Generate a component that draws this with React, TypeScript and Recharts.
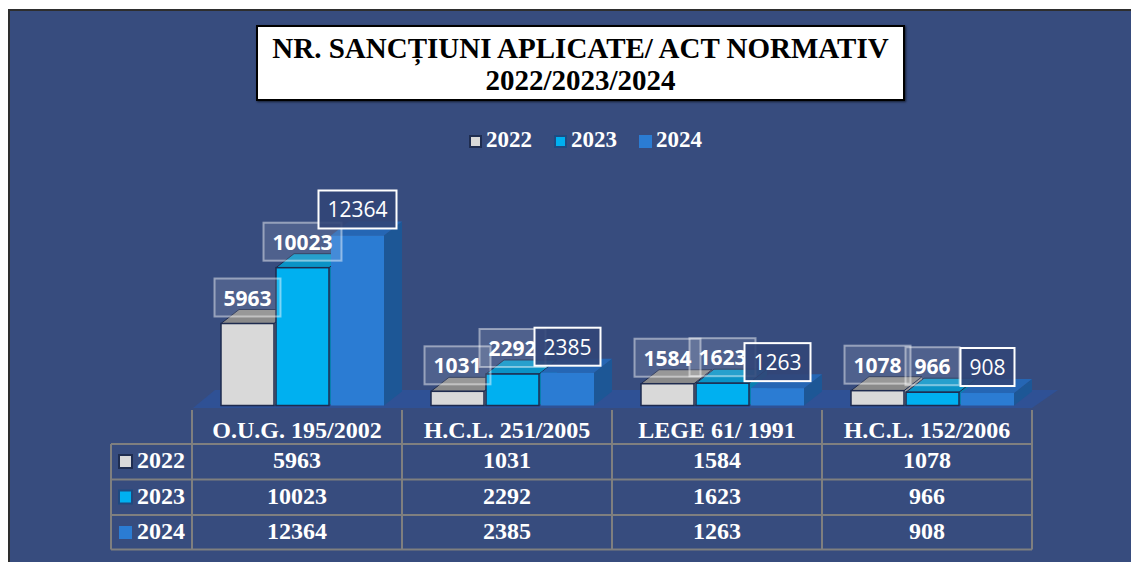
import React from 'react';
import { BarChart, Bar, XAxis, YAxis, LabelList } from 'recharts';

const categories = ['O.U.G. 195/2002', 'H.C.L. 251/2005', 'LEGE 61/ 1991', 'H.C.L. 152/2006'];
const values2022 = [5963, 1031, 1584, 1078];
const values2023 = [10023, 2292, 1623, 966];
const values2024 = [12364, 2385, 1263, 908];

const data = categories.map((name, i) => ({
  name,
  y2022: values2022[i],
  y2023: values2023[i],
  y2024: values2024[i],
}));

const W = 1131;
const H = 554;
const BG = '#374c7e';
const SERIF = '"Liberation Serif", "Times New Roman", serif';
const SANS = '"Open Sans", "Noto Sans", sans-serif';
const DX = 18;
const DY = 14;
const SHIFT = 5;

const series = [
  { key: 'y2022', name: '2022', values: values2022, front: '#d9d9d9', top: '#8a8a8a', side: '#9c9c9c', stroke: '#1e2b4f', keyStroke: '#1f2d50', bold: true },
  { key: 'y2023', name: '2023', values: values2023, front: '#00b0f0', top: '#0a93c6', side: '#0880b0', stroke: '#1e2b4f', keyStroke: '#1f4a80', bold: true },
  { key: 'y2024', name: '2024', values: values2024, front: '#2b7cd3', top: '#2566b4', side: '#1d5796', stroke: 'none', keyStroke: 'none', bold: false },
];

type S = (typeof series)[number];

const make3D = (s: S) => (props: any) => {
  const { x, y, width: w, height: h } = props;
  if (h == null || w == null) return null;
  const x0 = x + SHIFT;
  return (
    <g>
      <polygon
        points={`${x0 + w},${y} ${x0 + w + DX},${y - DY} ${x0 + w + DX},${y + h - DY} ${x0 + w},${y + h}`}
        fill={s.side}
      />
      <polygon
        points={`${x0},${y} ${x0 + DX},${y - DY} ${x0 + w + DX},${y - DY} ${x0 + w},${y}`}
        fill={s.top}
        stroke={s.stroke}
        strokeWidth={1}
      />
      <rect x={x0} y={y} width={w} height={h} fill={s.front} stroke={s.stroke} strokeWidth={1.5} />
    </g>
  );
};

const makeLabel = (s: S) => (props: any) => {
  const { x, y, width, value } = props;
  const txt = String(value);
  const bw = txt.length * 12 + 18;
  const cx = x + SHIFT + width / 2;
  const bottom = y - 7;
  return (
    <g>
      <rect
        x={cx - bw / 2}
        y={bottom - 38}
        width={bw}
        height={38}
        fill={s.bold ? 'rgba(255,255,255,0.12)' : 'rgba(50,70,120,0.9)'}
        stroke={s.bold ? 'rgba(255,255,255,0.45)' : '#ffffff'}
        strokeWidth={2}
      />
      <text
        x={cx}
        y={bottom - 11}
        textAnchor="middle"
        fill="#fff"
        fontFamily={SANS}
        fontSize={21}
        fontWeight={s.bold ? 700 : 400}
      >
        {txt}
      </text>
    </g>
  );
};

const HeaderTick = (props: any) => {
  const { x, y, payload } = props;
  return (
    <text x={x} y={y + 32.5} textAnchor="middle" fill="#fff" fontFamily={SERIF} fontWeight={700} fontSize={24}>
      {payload.value}
    </text>
  );
};

// table geometry (chart coords)
const colX = [184, 394, 604, 814, 1024];
const rowY = [435, 470.5, 506, 540.5];

function Table() {
  return (
    <svg width={W} height={H} style={{ position: 'absolute', left: 0, top: 0, pointerEvents: 'none' }}>
      <g stroke="#7f7f7f" strokeWidth={2}>
        {rowY.map((y) => (
          <line key={y} x1={103} x2={1024} y1={y} y2={y} />
        ))}
        <line x1={103} x2={103} y1={rowY[0]} y2={rowY[3]} />
        {colX.map((x) => (
          <line key={x} x1={x} x2={x} y1={401} y2={rowY[3]} />
        ))}
      </g>
      {series.map((s, r) => {
        const base = rowY[r] + 24;
        return (
          <g key={s.key} fontFamily={SERIF} fontWeight={700} fontSize={24} fill="#fff">
            <rect
              x={111}
              y={base - 13}
              width={13}
              height={13}
              fill={s.front}
              stroke={s.keyStroke}
              strokeWidth={s.keyStroke === 'none' ? 0 : 2}
            />
            <text x={129} y={base}>{s.name}</text>
            {s.values.map((v, i) => (
              <text key={i} x={(colX[i] + colX[i + 1]) / 2} y={base} textAnchor="middle">
                {v}
              </text>
            ))}
          </g>
        );
      })}
    </svg>
  );
}

export default function App() {
  return (
    <div style={{ position: 'relative', top: 1, width: W, height: H, background: BG, overflow: 'hidden' }}>
      <style>{'html,body{overflow:hidden}'}</style>
      <div style={{ position: 'absolute', left: 0, top: 0, width: '100%', height: 1.5, background: '#2e2e2e' }} />
      <div style={{ position: 'absolute', left: 0, top: 0, width: 1.5, height: '100%', background: '#2e2e2e' }} />

      <svg width={W} height={H} style={{ position: 'absolute', left: 0, top: 0 }}>
        <polygon points="185,399 1024,399 1050,381 207,381" fill="#2f5195" />
      </svg>

      <div style={{ position: 'absolute', left: 0, top: 0 }}>
        <BarChart
          width={W}
          height={H}
          data={data}
          margin={{ top: 204, right: 107, left: 184, bottom: 127.5 }}
          barSize={53}
          barGap={2}
        >
          <XAxis
            dataKey="name"
            axisLine={false}
            tickLine={false}
            tickSize={0}
            tickMargin={0}
            height={30}
            interval={0}
            tick={<HeaderTick />}
          />
          <YAxis hide domain={[0, 14000]} />
          {series.map((s) => (
            <Bar key={s.key} dataKey={s.key} name={s.name} fill={s.front} shape={make3D(s)} isAnimationActive={false}>
              <LabelList dataKey={s.key} content={makeLabel(s)} />
            </Bar>
          ))}
        </BarChart>
      </div>

      <Table />

      <div
        style={{
          position: 'absolute',
          left: 248,
          top: 16,
          width: 649,
          height: 76,
          boxSizing: 'border-box',
          border: '2px solid #000',
          background: '#fff',
          boxShadow: '1px 1px 2px rgba(0,0,0,0.6)',
          textAlign: 'center',
          fontFamily: SERIF,
          fontWeight: 700,
          fontSize: 29,
          lineHeight: '32px',
          paddingTop: 5,
          color: '#000',
        }}
      >
        NR. SANCȚIUNI APLICATE/ ACT NORMATIV
        <br />
        2022/2023/2024
      </div>

      <div
        style={{
          position: 'absolute',
          left: 461,
          top: 118,
          display: 'flex',
          alignItems: 'center',
          fontFamily: SERIF,
          fontWeight: 700,
          fontSize: 23,
          color: '#fff',
          lineHeight: '26px',
        }}
      >
        {series.map((s) => (
          <div key={s.key} style={{ display: 'flex', alignItems: 'center', marginRight: 22 }}>
            <span
              style={{
                display: 'inline-block',
                width: 13,
                height: 13,
                boxSizing: 'border-box',
                background: s.front,
                border: s.keyStroke === 'none' ? 'none' : `2px solid ${s.keyStroke}`,
                marginRight: 4,
                marginTop: 3,
              }}
            />
            <span>{s.name}</span>
          </div>
        ))}
      </div>
    </div>
  );
}
